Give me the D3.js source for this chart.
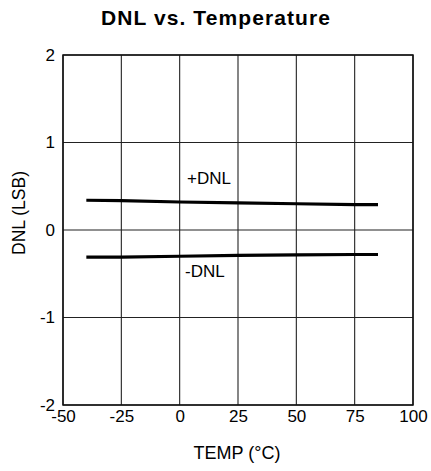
<!DOCTYPE html>
<html>
<head>
<meta charset="utf-8">
<script src="https://cdn.jsdelivr.net/npm/d3@7"></script>
<style>
  html, body { margin: 0; padding: 0; background: #fff; }
  svg { display: block; }
  text { font-family: "Liberation Sans", Arial, sans-serif; fill: #000; }
</style>
</head>
<body>
<svg id="chart" width="431" height="471"></svg>
<script>
// Temperature sweep points (°C)
const temps = [-40, -25, 0, 25, 50, 75, 85];
// Differential nonlinearity, positive and negative extremes (LSB)
const dnlPos = [0.34, 0.335, 0.32, 0.31, 0.30, 0.29, 0.29];
const dnlNeg = [-0.31, -0.31, -0.30, -0.29, -0.285, -0.28, -0.28];
// Axis ticks
const xTicks = [-50, -25, 0, 25, 50, 75, 100];
const yTicks = [-2, -1, 0, 1, 2];

const svg = d3.select("#chart");
const plotL = 63, plotR = 413, plotT = 55, plotB = 405;
const FONT = "Liberation Sans, Arial, sans-serif";

const x = d3.scaleLinear().domain([-50, 100]).range([plotL, plotR]);
const y = d3.scaleLinear().domain([-2, 2]).range([plotB, plotT]);

// Title
svg.append("text")
  .attr("x", 216).attr("y", 25)
  .attr("text-anchor", "middle")
  .attr("font-size", 21).attr("font-weight", "bold")
  .attr("letter-spacing", 1.1)
  .text("DNL vs. Temperature");

// Grid lines
const grid = svg.append("g").attr("stroke", "#222").attr("stroke-width", 1.1);
grid.selectAll("line.v").data(xTicks).join("line")
  .attr("x1", d => x(d)).attr("x2", d => x(d))
  .attr("y1", plotT).attr("y2", plotB);
grid.selectAll("line.h").data(yTicks).join("line")
  .attr("x1", plotL).attr("x2", plotR)
  .attr("y1", d => y(d)).attr("y2", d => y(d));

// Plot frame
svg.append("rect")
  .attr("x", plotL).attr("y", plotT)
  .attr("width", plotR - plotL).attr("height", plotB - plotT)
  .attr("fill", "none").attr("stroke", "#111").attr("stroke-width", 1.5);

// Tick labels via D3 axes (no tick lines), plain hyphen minus signs
const fmt = d => String(d);
const xAxis = svg.append("g")
  .attr("transform", `translate(0,${plotB})`)
  .call(d3.axisBottom(x).tickValues(xTicks).tickSize(0).tickPadding(5).tickFormat(fmt));
xAxis.select(".domain").remove();
xAxis.selectAll("text").attr("font-size", 17).attr("font-family", FONT).attr("fill", "#000");

const yAxis = svg.append("g")
  .attr("transform", `translate(${plotL},0)`)
  .call(d3.axisLeft(y).tickValues(yTicks).tickSize(0).tickPadding(8).tickFormat(fmt));
yAxis.select(".domain").remove();
yAxis.selectAll("text").attr("font-size", 17).attr("font-family", FONT).attr("fill", "#000").attr("dy", "0.3em");

// Axis titles
svg.append("text")
  .attr("x", 237).attr("y", 459)
  .attr("text-anchor", "middle").attr("font-size", 18)
  .text("TEMP (°C)");
svg.append("text")
  .attr("transform", "translate(25,213) rotate(-90)")
  .attr("text-anchor", "middle").attr("font-size", 17.5)
  .text("DNL (LSB)");

// Data curves
const line = d3.line().x((d, i) => x(temps[i])).y(d => y(d));
[dnlPos, dnlNeg].forEach(series => {
  svg.append("path")
    .datum(series)
    .attr("d", line)
    .attr("fill", "none")
    .attr("stroke", "#000")
    .attr("stroke-width", 3.2);
});

// Curve labels
svg.append("text").attr("x", 187).attr("y", 184).attr("font-size", 17).text("+DNL");
svg.append("text").attr("x", 185).attr("y", 277).attr("font-size", 17).text("-DNL");
</script>
</body>
</html>
